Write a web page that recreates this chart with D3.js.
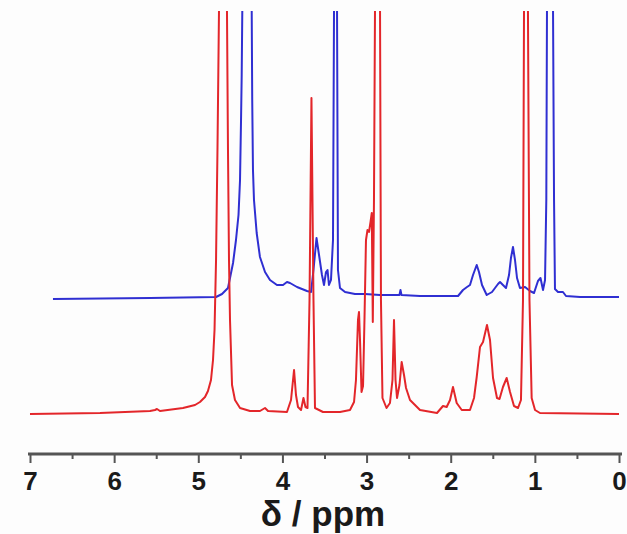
<!DOCTYPE html>
<html>
<head>
<meta charset="utf-8">
<script src="https://cdn.jsdelivr.net/npm/d3@7"></script>
<style>
  html, body { margin: 0; padding: 0; background: #fdfdfd; }
  svg { display: block; }
  text { font-family: "Liberation Sans", Arial, sans-serif; }
</style>
</head>
<body>
<script>
// ---- Data (chemical shift in ppm, intensity in arbitrary units) ----
const tickValues = [7, 6, 5, 4, 3, 2, 1, 0];
const minorTickValues = [6.5, 5.5, 4.5, 3.5, 2.5, 1.5, 0.5];
const xLabel = "δ / ppm";
const blueOffset = 116;

const redSpectrum = [
  [7.000, 0], [6.168, 1], [5.574, 3], [5.514, 4], [5.491, 5], [5.455, 3],
  [5.182, 6], [5.039, 9], [4.980, 12], [4.920, 17], [4.885, 23], [4.849, 34],
  [4.825, 54], [4.807, 84], [4.789, 154], [4.772, 264], [4.754, 403],
  [4.706, 1200], [4.659, 403], [4.647, 264], [4.635, 154], [4.623, 94],
  [4.599, 29], [4.564, 14], [4.504, 6], [4.385, 3], [4.267, 3], [4.207, 6],
  [4.171, 3], [3.946, 2], [3.898, 14], [3.862, 44], [3.839, 19], [3.815, 7],
  [3.779, 4], [3.750, 16], [3.726, 7], [3.702, 6], [3.678, 114], [3.655, 316],
  [3.631, 114], [3.613, 6], [3.518, 2], [3.316, 2], [3.197, 4], [3.149, 12],
  [3.126, 34], [3.102, 94], [3.090, 102], [3.078, 74], [3.060, 22], [3.042, 28],
  [3.025, 94], [3.007, 174], [2.989, 184], [2.971, 182], [2.953, 192],
  [2.938, 201], [2.926, 92], [2.912, 214], [2.900, 403], [2.870, 1200],
  [2.840, 403], [2.829, 114], [2.811, 16], [2.763, 6], [2.722, 11], [2.692, 34],
  [2.674, 94], [2.656, 34], [2.638, 16], [2.609, 29], [2.583, 52], [2.555, 39],
  [2.531, 26], [2.484, 14], [2.365, 4], [2.163, 1], [2.092, 8], [2.048, 7],
  [2.008, 14], [1.973, 27], [1.929, 11], [1.869, 4], [1.771, 4], [1.723, 16],
  [1.691, 37], [1.652, 67], [1.616, 72], [1.569, 89], [1.533, 74], [1.497, 36],
  [1.450, 16], [1.420, 15], [1.379, 27], [1.335, 36], [1.295, 22], [1.248, 8],
  [1.200, 6], [1.165, 14], [1.141, 114], [1.129, 403], [1.105, 1200],
  [1.082, 403], [1.064, 114], [1.038, 16], [0.998, 4], [0.939, 1], [0.000, 0]
];

const blueSpectrum = [
  [6.727, -1], [5.574, 0], [4.789, 1], [4.718, 4], [4.647, 10], [4.587, 35],
  [4.552, 58], [4.522, 83], [4.504, 118], [4.492, 178], [4.484, 223],
  [4.477, 287], [4.421, 1200], [4.365, 287], [4.359, 198], [4.350, 128],
  [4.338, 98], [4.306, 65], [4.267, 41], [4.207, 26], [4.148, 18], [4.065, 13],
  [3.993, 13], [3.946, 16], [3.910, 15], [3.827, 11], [3.708, 7], [3.660, 6],
  [3.631, 28], [3.595, 60], [3.565, 43], [3.530, 23], [3.506, 13], [3.482, 26],
  [3.464, 28], [3.447, 13], [3.423, 18], [3.399, 58], [3.387, 287],
  [3.369, 1200], [3.351, 287], [3.340, 28], [3.316, 10], [3.256, 6],
  [3.138, 4], [3.019, 4], [2.840, 3], [2.609, 3], [2.597, 8], [2.585, 3],
  [2.365, 2], [1.913, 2], [1.854, 8], [1.806, 11], [1.771, 13], [1.735, 23],
  [1.691, 33], [1.664, 26], [1.628, 13], [1.572, 3], [1.509, 6], [1.438, 14],
  [1.414, 16], [1.379, 13], [1.343, 10], [1.307, 23], [1.284, 40], [1.260, 51],
  [1.236, 38], [1.212, 20], [1.177, 10], [1.117, 11], [1.058, 7], [1.010, 5],
  [0.963, 17], [0.933, 20], [0.903, 8], [0.879, 18], [0.864, 98], [0.856, 287],
  [0.820, 1200], [0.784, 287], [0.772, 98], [0.761, 9], [0.725, 6], [0.666, 6],
  [0.630, 2], [0.463, 1], [0.000, 1]
];

// ---- Layout ----
const W = 627, H = 534;
const axisY = 454, plotTop = 11;

const svg = d3.select("body").append("svg")
  .attr("width", W).attr("height", H);

const x = d3.scaleLinear().domain([7, 0]).range([30, 619]);
const y = d3.scaleLinear().domain([-40, 403]).range([axisY, plotTop]);

svg.append("defs").append("clipPath").attr("id", "plotclip")
  .append("rect").attr("x", 0).attr("y", plotTop)
  .attr("width", W).attr("height", axisY - plotTop);

const g = svg.append("g").attr("clip-path", "url(#plotclip)");

const redLine = d3.line().x(d => x(d[0])).y(d => y(d[1]));
const blueLine = d3.line().x(d => x(d[0])).y(d => y(d[1] + blueOffset));

g.append("path").datum(blueSpectrum)
  .attr("d", blueLine).attr("fill", "none")
  .attr("stroke", "#2f2fd2").attr("stroke-width", 2)
  .attr("stroke-linejoin", "round");

g.append("path").datum(redSpectrum)
  .attr("d", redLine).attr("fill", "none")
  .attr("stroke", "#e3262a").attr("stroke-width", 2)
  .attr("stroke-linejoin", "round");

// ---- Axis ----
const axisG = svg.append("g").attr("transform", `translate(0,${axisY})`);

const minorAxis = d3.axisBottom(x).tickValues(minorTickValues)
  .tickSize(5).tickSizeOuter(0).tickFormat("");
axisG.append("g").call(minorAxis)
  .call(s => s.select(".domain").remove())
  .call(s => s.selectAll("line").attr("stroke", "#555").attr("stroke-width", 2));

const majorAxis = d3.axisBottom(x).tickValues(tickValues)
  .tickSize(9).tickSizeOuter(0).tickPadding(9).tickFormat(d3.format("d"));
axisG.append("g").call(majorAxis)
  .call(s => s.select(".domain").attr("stroke", "#555").attr("stroke-width", 3)
      .attr("d", `M28,0H622`))
  .call(s => s.selectAll("line").attr("stroke", "#555").attr("stroke-width", 2))
  .call(s => s.selectAll("text")
      .attr("font-family", "'Liberation Sans', Arial, sans-serif")
      .attr("font-size", 26).attr("font-weight", "bold").attr("fill", "#1a1a1a"));

svg.append("text")
  .attr("x", 323).attr("y", 526)
  .attr("text-anchor", "middle")
  .attr("font-size", 35).attr("font-weight", "bold").attr("fill", "#1a1a1a")
  .text(xLabel);
</script>
</body>
</html>
